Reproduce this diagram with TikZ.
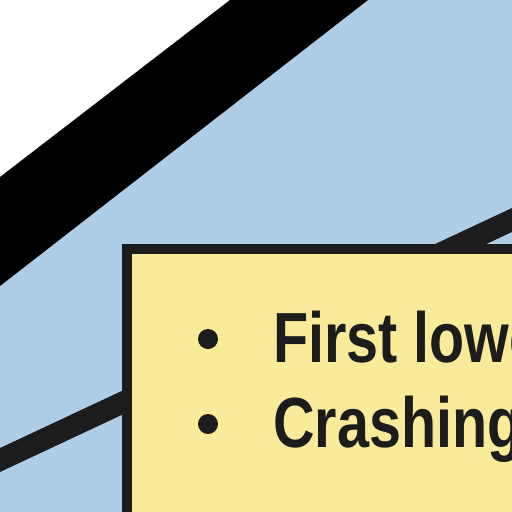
\documentclass[tikz,border=0pt]{standalone}
\usepackage{fontspec}
\setmainfont{Liberation Sans}[FakeStretch=0.81]
\definecolor{skyfill}{HTML}{AECDE6}
\definecolor{notefill}{HTML}{F9EB99}
\definecolor{ink}{HTML}{1C1C1C}
\tikzset{
  notebox/.style={draw=ink, fill=notefill, line width=10pt, outer sep=0pt, inner sep=0pt, anchor=north west, minimum width=600pt, minimum height=400pt},
  bulletdot/.style={circle, fill=ink, minimum size=20pt, inner sep=0pt},
  itemtext/.style={anchor=base west, inner sep=0pt, text=ink, font=\bfseries\fontsize{71}{71}\selectfont},
  link/.style={draw=ink, line width=21.7pt}
}
\begin{document}
\begin{tikzpicture}[x=1pt,y=-1pt]
\useasboundingbox (0,0) rectangle (512,512);
\clip (0,0) rectangle (512,512);
\fill[white] (0,0) rectangle (512,512);
\fill[skyfill] (0,286) -- (368,0) -- (512,0) -- (512,512) -- (0,512) -- cycle;
\fill[black] (0,177) -- (230,0) -- (368,0) -- (0,286) -- cycle;
\coordinate (la) at (-20,469.4);
\coordinate (lb) at (532,210.6);
\draw[link] (la) -- (lb);
\node[notebox] (box) at (127,249) {};
\node[bulletdot] (b1) at (208,339) {};
\node[bulletdot] (b2) at (208,424) {};
\node[itemtext] (t1) at (273,362) {First lowe};
\node[itemtext] (t2) at (273,447) {Crashing};
\end{tikzpicture}
\end{document}
